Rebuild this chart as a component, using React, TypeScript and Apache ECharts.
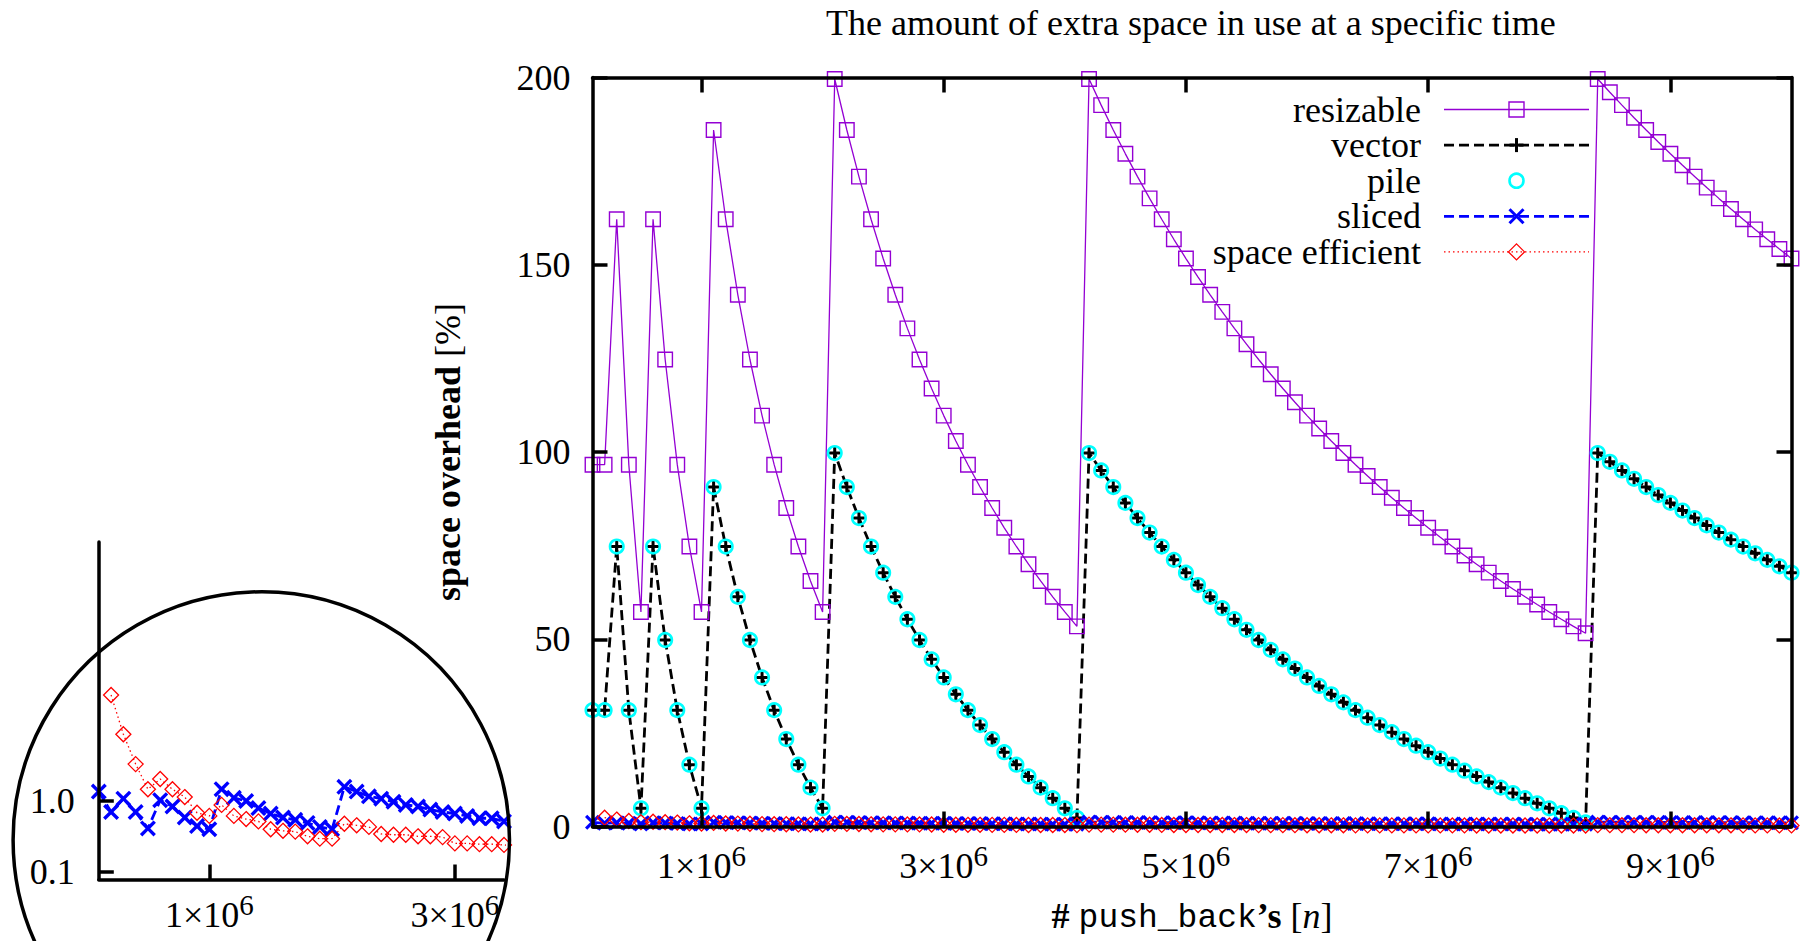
import React, { useEffect, useRef } from 'react';
import * as echarts from 'echarts';

// ---------------- data ----------------
const nValues = [
  100000, 200000, 300000, 400000, 500000, 600000, 700000, 800000, 900000, 1000000,
  1100000, 1200000, 1300000, 1400000, 1500000, 1600000, 1700000, 1800000, 1900000, 2000000,
  2100000, 2200000, 2300000, 2400000, 2500000, 2600000, 2700000, 2800000, 2900000, 3000000,
  3100000, 3200000, 3300000, 3400000, 3500000, 3600000, 3700000, 3800000, 3900000, 4000000,
  4100000, 4200000, 4300000, 4400000, 4500000, 4600000, 4700000, 4800000, 4900000, 5000000,
  5100000, 5200000, 5300000, 5400000, 5500000, 5600000, 5700000, 5800000, 5900000, 6000000,
  6100000, 6200000, 6300000, 6400000, 6500000, 6600000, 6700000, 6800000, 6900000, 7000000,
  7100000, 7200000, 7300000, 7400000, 7500000, 7600000, 7700000, 7800000, 7900000, 8000000,
  8100000, 8200000, 8300000, 8400000, 8500000, 8600000, 8700000, 8800000, 8900000, 9000000,
  9100000, 9200000, 9300000, 9400000, 9500000, 9600000, 9700000, 9800000, 9900000, 10000000,
];

const resizableValues = [
  96.61, 96.61, 162.14, 96.61, 57.29, 162.14, 124.7, 96.61, 74.77, 57.29,
  185.98, 162.14, 141.98, 124.7, 109.72, 96.61, 85.04, 74.77, 65.57, 57.29,
  199.6, 185.98, 173.54, 162.14, 151.66, 141.98, 133.01, 124.7, 116.95, 109.72,
  102.95, 96.61, 90.65, 85.04, 79.76, 74.77, 70.04, 65.57, 61.33, 57.29,
  53.45, 199.6, 192.62, 185.98, 179.62, 173.54, 167.72, 162.14, 156.8, 151.66,
  146.72, 141.98, 137.42, 133.01, 128.78, 124.7, 120.76, 116.95, 113.27, 109.72,
  106.28, 102.95, 99.73, 96.61, 93.59, 90.65, 87.8, 85.04, 82.36, 79.76,
  77.23, 74.77, 72.37, 70.04, 67.78, 65.57, 63.41, 61.33, 59.29, 57.29,
  55.34, 53.45, 51.61, 199.6, 196.07, 192.62, 189.26, 185.98, 182.77, 179.62,
  176.56, 173.54, 170.6, 167.72, 164.9, 162.14, 159.44, 156.8, 154.21, 151.66,
];

const vectorValues = [
  31.07, 31.07, 74.76, 31.07, 4.86, 74.76, 49.8, 31.07, 16.51, 4.86,
  90.65, 74.76, 61.32, 49.8, 39.81, 31.07, 23.36, 16.51, 10.38, 4.86,
  99.73, 90.65, 82.36, 74.76, 67.77, 61.32, 55.34, 49.8, 44.63, 39.81,
  35.3, 31.07, 27.1, 23.36, 19.84, 16.51, 13.36, 10.38, 7.55, 4.86,
  2.3, 99.73, 95.08, 90.65, 86.41, 82.36, 78.48, 74.76, 71.2, 67.77,
  64.48, 61.32, 58.28, 55.34, 52.52, 49.8, 47.17, 44.63, 42.18, 39.81,
  37.52, 35.3, 33.15, 31.07, 29.06, 27.1, 25.2, 23.36, 21.57, 19.84,
  18.15, 16.51, 14.91, 13.36, 11.85, 10.38, 8.94, 7.55, 6.19, 4.86,
  3.56, 2.3, 1.07, 99.73, 97.38, 95.08, 92.84, 90.65, 88.51, 86.41,
  84.37, 82.36, 80.4, 78.48, 76.6, 74.76, 72.96, 71.2, 69.47, 67.77,
];

const pileValues = [
  31.07, 31.07, 74.76, 31.07, 4.86, 74.76, 49.8, 31.07, 16.51, 4.86,
  90.65, 74.76, 61.32, 49.8, 39.81, 31.07, 23.36, 16.51, 10.38, 4.86,
  99.73, 90.65, 82.36, 74.76, 67.77, 61.32, 55.34, 49.8, 44.63, 39.81,
  35.3, 31.07, 27.1, 23.36, 19.84, 16.51, 13.36, 10.38, 7.55, 4.86,
  2.3, 99.73, 95.08, 90.65, 86.41, 82.36, 78.48, 74.76, 71.2, 67.77,
  64.48, 61.32, 58.28, 55.34, 52.52, 49.8, 47.17, 44.63, 42.18, 39.81,
  37.52, 35.3, 33.15, 31.07, 29.06, 27.1, 25.2, 23.36, 21.57, 19.84,
  18.15, 16.51, 14.91, 13.36, 11.85, 10.38, 8.94, 7.55, 6.19, 4.86,
  3.56, 2.3, 1.07, 99.73, 97.38, 95.08, 92.84, 90.65, 88.51, 86.41,
  84.37, 82.36, 80.4, 78.48, 76.6, 74.76, 72.96, 71.2, 69.47, 67.77,
];

const slicedValues = [
  1.12, 0.86, 1.03, 0.86, 0.65, 1.01, 0.93, 0.79, 0.68, 0.64,
  1.15, 1.04, 1.0, 0.91, 0.84, 0.79, 0.76, 0.72, 0.67, 0.64,
  1.18, 1.12, 1.06, 1.03, 0.99, 0.95, 0.93, 0.89, 0.86, 0.84,
  0.81, 0.78, 0.78, 0.74, 0.71, 0.69, 0.67, 0.65, 0.63, 0.62,
  0.6, 1.18, 1.15, 1.13, 1.1, 1.08, 1.05, 1.03, 1.01, 0.99,
  0.97, 0.95, 0.93, 0.92, 0.9, 0.88, 0.87, 0.85, 0.84, 0.83,
  0.81, 0.8, 0.79, 0.77, 0.76, 0.75, 0.74, 0.73, 0.72, 0.71,
  0.7, 0.69, 0.68, 0.67, 0.66, 0.65, 0.64, 0.63, 0.63, 0.62,
  0.61, 0.6, 0.6, 1.18, 1.16, 1.15, 1.14, 1.12, 1.11, 1.1,
  1.09, 1.08, 1.06, 1.05, 1.04, 1.03, 1.02, 1.01, 1.0, 0.99,
];

const spaceEfficientValues: (number | null)[] = [
  null, 2.35, 1.85, 1.47, 1.15, 1.28, 1.15, 1.05, 0.85, 0.81,
  0.95, 0.81, 0.77, 0.74, 0.64, 0.62, 0.61, 0.55, 0.52, 0.52,
  0.71, 0.69, 0.67, 0.58, 0.57, 0.57, 0.55, 0.55, 0.54, 0.46,
  0.46, 0.45, 0.45, 0.44, 0.43, 0.42, 0.41, 0.4, 0.39, 0.38,
  0.37, 0.51, 0.5, 0.49, 0.48, 0.47, 0.46, 0.42, 0.41, 0.41,
  0.4, 0.39, 0.39, 0.38, 0.38, 0.37, 0.36, 0.36, 0.35, 0.33,
  0.33, 0.32, 0.32, 0.31, 0.31, 0.3, 0.3, 0.3, 0.29, 0.29,
  0.28, 0.28, 0.28, 0.27, 0.27, 0.27, 0.26, 0.26, 0.26, 0.25,
  0.25, 0.25, 0.25, 0.36, 0.36, 0.35, 0.35, 0.34, 0.34, 0.33,
  0.33, 0.33, 0.32, 0.32, 0.32, 0.29, 0.29, 0.29, 0.28, 0.28,
];

const legendNames = ['resizable', 'vector', 'pile', 'sliced', 'space efficient'];
const xTickValues = [1000000, 3000000, 5000000, 7000000, 9000000];
const insetXTickValues = [1000000, 3000000];
const insetYTickValues = [0.1, 1.0];

const titleText = 'The amount of extra space in use at a specific time';

// ---------------- styling ----------------
const SERIF = '"Liberation Serif", "DejaVu Serif", "Times New Roman", serif';
const MONO = '"Liberation Mono", "DejaVu Sans Mono", monospace';
const PURPLE = '#9400d3';
const CYAN = '#00ffff';
const BLUE = '#0000ff';
const RED = '#ff0000';
const BLACK = '#000000';

const PLUS_PATH = 'path://M5.5,0H8.5V5.5H14V8.5H8.5V14H5.5V8.5H0V5.5H5.5Z';
const CROSS_PATH =
  'path://M0,2.1L2.1,0L7,4.9L11.9,0L14,2.1L9.1,7L14,11.9L11.9,14L7,9.1L2.1,14L0,11.9L4.9,7Z';

const pairs = (vals: (number | null)[]) =>
  nValues.map((n, i) => [n, vals[i] === null ? '-' : vals[i]]);

const supRich = {
  a: { fontFamily: SERIF, fontSize: 36, lineHeight: 49, color: BLACK },
  b: { fontFamily: SERIF, fontSize: 29, lineHeight: 29, verticalAlign: 'top', color: BLACK },
};
const fmtSci = (v: number) => `{a|${Math.round(v / 1e6)}×10}{b|6}`;

const axisLineStyle = { color: BLACK, width: 3.5 };
const tickLineStyle = { color: BLACK, width: 3.5 };

function buildLegend() {
  const els: any[] = [];
  const tx = 1421;
  const x1 = 1444;
  const x2 = 1589;
  const mx = 1516.5;
  legendNames.forEach((name, i) => {
    const y = 109.5 + i * 35.6;
    els.push({
      type: 'text',
      z: 100,
      style: {
        x: tx,
        y,
        text: name,
        fill: BLACK,
        fontFamily: SERIF,
        fontSize: 36,
        lineHeight: 30,
        align: 'right',
        verticalAlign: 'middle',
        textAlign: 'right',
        textVerticalAlign: 'middle',
      },
    });
    if (i === 0) {
      els.push({ type: 'line', z: 100, shape: { x1, y1: y, x2, y2: y }, style: { stroke: PURPLE, lineWidth: 1.3 } });
      els.push({ type: 'rect', z: 101, shape: { x: mx - 7.5, y: y - 7.5, width: 15, height: 15 }, style: { fill: 'none', stroke: PURPLE, lineWidth: 1.4 } });
    } else if (i === 1) {
      els.push({ type: 'line', z: 100, shape: { x1, y1: y, x2, y2: y }, style: { stroke: BLACK, lineWidth: 2.8, lineDash: [10, 5] } });
      els.push({ type: 'line', z: 101, shape: { x1: mx - 7, y1: y, x2: mx + 7, y2: y }, style: { stroke: BLACK, lineWidth: 3 } });
      els.push({ type: 'line', z: 101, shape: { x1: mx, y1: y - 7, x2: mx, y2: y + 7 }, style: { stroke: BLACK, lineWidth: 3 } });
    } else if (i === 2) {
      els.push({ type: 'circle', z: 101, shape: { cx: mx, cy: y, r: 7 }, style: { fill: 'none', stroke: CYAN, lineWidth: 2.6 } });
    } else if (i === 3) {
      els.push({ type: 'line', z: 100, shape: { x1, y1: y, x2, y2: y }, style: { stroke: BLUE, lineWidth: 2.8, lineDash: [10, 5] } });
      els.push({ type: 'line', z: 101, shape: { x1: mx - 7, y1: y - 7, x2: mx + 7, y2: y + 7 }, style: { stroke: BLUE, lineWidth: 3 } });
      els.push({ type: 'line', z: 101, shape: { x1: mx - 7, y1: y + 7, x2: mx + 7, y2: y - 7 }, style: { stroke: BLUE, lineWidth: 3 } });
    } else {
      els.push({ type: 'line', z: 100, shape: { x1, y1: y, x2, y2: y }, style: { stroke: RED, lineWidth: 1.3, lineDash: [1.5, 3] } });
      els.push({
        type: 'polygon',
        z: 101,
        shape: { points: [[mx, y - 8], [mx + 8, y], [mx, y + 8], [mx - 8, y]] },
        style: { fill: 'none', stroke: RED, lineWidth: 1.3 },
      });
    }
  });
  return els;
}

function buildOption(): any {
  const smallSeries = (grid: 0 | 1) => {
    const xi = grid === 0 ? 0 : 2;
    const yi = grid === 0 ? 0 : 2;
    const sliced = {
      type: 'line',
      name: 'sliced',
      xAxisIndex: xi,
      yAxisIndex: yi,
      data: pairs(slicedValues),
      symbol: CROSS_PATH,
      symbolSize: grid === 0 ? 15 : 16,
      showSymbol: true,
      itemStyle: { color: BLUE },
      lineStyle: { color: BLUE, width: 2.8, type: [10, 5] },
      clip: grid === 1,
      silent: true,
    };
    const spaceEff = {
      type: 'line',
      name: 'space efficient',
      xAxisIndex: xi,
      yAxisIndex: yi,
      data: pairs(spaceEfficientValues),
      symbol: 'diamond',
      symbolSize: 15,
      showSymbol: true,
      connectNulls: false,
      itemStyle: { color: 'rgba(0,0,0,0)', borderColor: RED, borderWidth: 1.3 },
      lineStyle: { color: RED, width: 1.3, type: [1.5, 3] },
      clip: grid === 1,
      silent: true,
    };
    return [sliced, spaceEff];
  };

  const mainSeries = [
    {
      type: 'line',
      name: 'resizable',
      xAxisIndex: 0,
      yAxisIndex: 0,
      data: pairs(resizableValues),
      symbol: 'rect',
      symbolSize: 14.5,
      showSymbol: true,
      itemStyle: { color: 'rgba(0,0,0,0)', borderColor: PURPLE, borderWidth: 1.4 },
      lineStyle: { color: PURPLE, width: 1.3 },
      clip: false,
      silent: true,
    },
    {
      type: 'line',
      name: 'vector',
      xAxisIndex: 0,
      yAxisIndex: 0,
      data: pairs(vectorValues),
      symbol: PLUS_PATH,
      symbolSize: 14,
      showSymbol: true,
      itemStyle: { color: BLACK },
      lineStyle: { color: BLACK, width: 2.8, type: [10, 5] },
      clip: false,
      silent: true,
    },
    {
      type: 'line',
      name: 'pile',
      xAxisIndex: 0,
      yAxisIndex: 0,
      data: pairs(pileValues),
      symbol: 'circle',
      symbolSize: 13.5,
      showSymbol: true,
      itemStyle: { color: 'rgba(0,0,0,0)', borderColor: CYAN, borderWidth: 2.6 },
      lineStyle: { width: 0, opacity: 0 },
      clip: false,
      silent: true,
    },
    ...smallSeries(0),
  ];

  return {
    animation: false,
    backgroundColor: '#ffffff',
    textStyle: { fontFamily: SERIF, color: BLACK },
    title: {
      text: titleText,
      left: 826,
      top: 5,
      padding: 0,
      textStyle: { fontFamily: SERIF, fontSize: 36, fontWeight: 'normal', color: BLACK, lineHeight: 36 },
    },
    grid: [
      { left: 592.5, top: 77.5, width: 1199, height: 749, containLabel: false, outerBoundsMode: 'none', show: false },
      { left: 98.8, top: 541.9, width: 405.2, height: 337.6, containLabel: false, outerBoundsMode: 'none', show: false },
    ],
    xAxis: [
      {
        gridIndex: 0,
        type: 'value',
        position: 'bottom',
        min: 100000,
        max: 10000000,
        z: 10,
        axisLine: { show: true, onZero: false, lineStyle: axisLineStyle },
        axisTick: { show: true, inside: true, length: 15, lineStyle: tickLineStyle, customValues: xTickValues },
        axisLabel: { show: true, customValues: xTickValues, margin: 15, formatter: fmtSci, rich: supRich },
        splitLine: { show: false },
        name: '{b|#} {m|push_back}{b|’s} {r|[}{i|n}{r|]}',
        nameLocation: 'middle',
        nameGap: 71,
        nameTextStyle: {
          fontFamily: SERIF,
          fontSize: 36,
          color: BLACK,
          rich: {
            b: { fontFamily: SERIF, fontSize: 36, fontWeight: 'bold', lineHeight: 36, color: BLACK },
            m: { fontFamily: MONO, fontSize: 33, lineHeight: 36, padding: [5, 0, 0, 0], color: BLACK },
            r: { fontFamily: SERIF, fontSize: 36, lineHeight: 36, color: BLACK },
            i: { fontFamily: SERIF, fontSize: 36, fontStyle: 'italic', lineHeight: 36, color: BLACK },
          },
        },
      },
      {
        gridIndex: 0,
        type: 'value',
        position: 'top',
        min: 100000,
        max: 10000000,
        z: 10,
        axisLine: { show: true, onZero: false, lineStyle: axisLineStyle },
        axisTick: { show: true, inside: true, length: 15, lineStyle: tickLineStyle, customValues: xTickValues },
        axisLabel: { show: false },
        splitLine: { show: false },
      },
      {
        gridIndex: 1,
        type: 'value',
        position: 'bottom',
        min: 100000,
        max: 3400000,
        z: 10,
        axisLine: { show: true, onZero: false, lineStyle: axisLineStyle },
        axisTick: { show: true, inside: true, length: 15, lineStyle: tickLineStyle, customValues: insetXTickValues },
        axisLabel: { show: true, customValues: insetXTickValues, margin: 11, formatter: fmtSci, rich: supRich },
        splitLine: { show: false },
      },
    ],
    yAxis: [
      {
        gridIndex: 0,
        type: 'value',
        position: 'left',
        min: 0,
        max: 200,
        interval: 50,
        z: 10,
        axisLine: { show: true, onZero: false, lineStyle: axisLineStyle },
        axisTick: { show: true, inside: true, length: 15, lineStyle: tickLineStyle },
        axisLabel: { show: true, margin: 22, fontFamily: SERIF, fontSize: 36, color: BLACK },
        splitLine: { show: false },
        name: '{b|space overhead}{r| [%]}',
        nameLocation: 'middle',
        nameRotate: 90,
        nameGap: 127,
        nameTextStyle: {
          fontFamily: SERIF,
          fontSize: 36,
          color: BLACK,
          rich: {
            b: { fontFamily: SERIF, fontSize: 36, fontWeight: 'bold', lineHeight: 36, color: BLACK },
            r: { fontFamily: SERIF, fontSize: 36, lineHeight: 36, color: BLACK },
          },
        },
      },
      {
        gridIndex: 0,
        type: 'value',
        position: 'right',
        min: 0,
        max: 200,
        interval: 50,
        z: 10,
        axisLine: { show: true, onZero: false, lineStyle: axisLineStyle },
        axisTick: { show: true, inside: true, length: 15, lineStyle: tickLineStyle },
        axisLabel: { show: false },
        splitLine: { show: false },
      },
      {
        gridIndex: 1,
        type: 'value',
        position: 'left',
        min: 0,
        max: 4.3,
        z: 10,
        axisLine: { show: true, onZero: false, lineStyle: axisLineStyle },
        axisTick: { show: true, inside: true, length: 15, lineStyle: tickLineStyle, customValues: insetYTickValues },
        axisLabel: {
          show: true,
          customValues: insetYTickValues,
          margin: 24,
          fontFamily: SERIF,
          fontSize: 36,
          color: BLACK,
          formatter: (v: number) => v.toFixed(1),
        },
        splitLine: { show: false },
      },
    ],
    series: [...mainSeries, ...smallSeries(1)],
    graphic: {
      elements: [
        {
          type: 'circle',
          z: 100,
          shape: { cx: 261.3, cy: 840, r: 248.2 },
          style: { fill: 'none', stroke: BLACK, lineWidth: 3.5 },
        },
        ...buildLegend(),
      ],
    },
  };
}

export default function App() {
  const ref = useRef<HTMLDivElement>(null);
  useEffect(() => {
    if (!ref.current) return;
    const chart = echarts.init(ref.current, undefined, { renderer: 'svg' });
    chart.setOption(buildOption());
    return () => {
      chart.dispose();
    };
  }, []);
  return (
    <div
      ref={ref}
      style={{ position: 'absolute', left: 0, top: 0, width: 1803, height: 941, background: '#ffffff' }}
    />
  );
}
